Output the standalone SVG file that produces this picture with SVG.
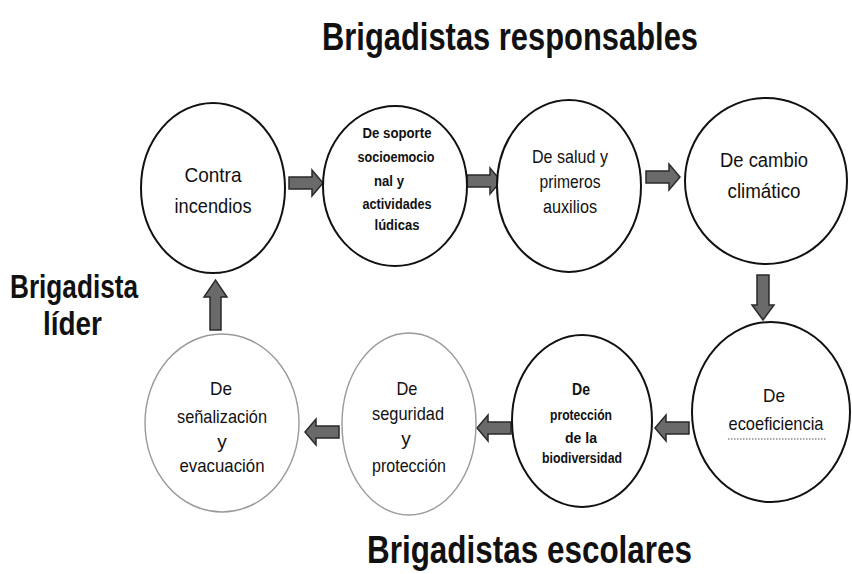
<svg xmlns="http://www.w3.org/2000/svg" width="852" height="574" viewBox="0 0 852 574">
<style>
.bg{fill:#ffffff}
.node{fill:#ffffff;stroke:#111111;stroke-width:2}
.faint{fill:#ffffff;stroke:#9a9a9a;stroke-width:1.4}
.t{font-family:"Liberation Sans",Arial,sans-serif;fill:#111111;text-anchor:middle}
.b{font-weight:bold}
.title{font-family:"Liberation Sans",Arial,sans-serif;font-weight:bold;fill:#111111;font-size:38px}
.arrow{fill:#6a6a6a;stroke:#2a2a2a;stroke-width:1.5;stroke-linejoin:miter}
</style>
<defs>
<path id="ar" d="M-17,-6 H6 V-13 L17,0 L6,13 V6 H-17 Z"/>
</defs>
<rect class="bg" x="0" y="0" width="852" height="574"/>

<g id="titles">
<text class="title" x="322" y="50" textLength="376" lengthAdjust="spacingAndGlyphs">Brigadistas responsables</text>
<text class="title" x="367" y="563" textLength="325" lengthAdjust="spacingAndGlyphs">Brigadistas escolares</text>
<text class="title" x="10" y="298" style="font-size:34px" textLength="128" lengthAdjust="spacingAndGlyphs">Brigadista</text>
<text class="title" x="43" y="335" style="font-size:34px" textLength="59" lengthAdjust="spacingAndGlyphs">líder</text>
</g>

<g id="connectors">
<use href="#ar" class="arrow" transform="translate(306,183)"/>
<use href="#ar" class="arrow" transform="translate(484,181)"/>
<use href="#ar" class="arrow" transform="translate(663,177)"/>
<path class="arrow" d="M757,275 H769 V305 H774 L763,320 L752,305 H757 Z"/>
<use href="#ar" class="arrow" transform="translate(672,428) rotate(180)"/>
<use href="#ar" class="arrow" transform="translate(494,428) rotate(180)"/>
<use href="#ar" class="arrow" transform="translate(322,432) rotate(180)"/>
<path class="arrow" d="M210,330 H221 V297 H227 L215.5,280 L204,297 H210 Z"/>
</g>

<g id="n1">
<ellipse class="node" cx="213" cy="188" rx="72" ry="85"/>
<text class="t" x="213" y="182" font-size="21" textLength="57" lengthAdjust="spacingAndGlyphs">Contra</text>
<text class="t" x="213" y="213" font-size="21" textLength="77" lengthAdjust="spacingAndGlyphs">incendios</text>
</g>

<g id="n2">
<ellipse class="node" cx="395" cy="186" rx="72" ry="80"/>
<text class="t b" x="397" y="138" font-size="14" textLength="69" lengthAdjust="spacingAndGlyphs">De soporte</text>
<text class="t b" x="396" y="162" font-size="14" textLength="77" lengthAdjust="spacingAndGlyphs">socioemocio</text>
<text class="t b" x="389" y="186" font-size="14" textLength="30" lengthAdjust="spacingAndGlyphs">nal y</text>
<text class="t b" x="397" y="209" font-size="14" textLength="69" lengthAdjust="spacingAndGlyphs">actividades</text>
<text class="t b" x="397" y="230" font-size="14" textLength="45" lengthAdjust="spacingAndGlyphs">lúdicas</text>
</g>

<g id="n3">
<ellipse class="node" cx="569" cy="186" rx="72" ry="86"/>
<text class="t" x="570" y="163" font-size="19" textLength="76" lengthAdjust="spacingAndGlyphs">De salud y</text>
<text class="t" x="570" y="188" font-size="19" textLength="61" lengthAdjust="spacingAndGlyphs">primeros</text>
<text class="t" x="570" y="213" font-size="19" textLength="54" lengthAdjust="spacingAndGlyphs">auxilios</text>
</g>

<g id="n4">
<ellipse class="node" cx="766" cy="181" rx="81" ry="83"/>
<text class="t" x="764" y="167" font-size="20" textLength="88" lengthAdjust="spacingAndGlyphs">De cambio</text>
<text class="t" x="764" y="198" font-size="20" textLength="73" lengthAdjust="spacingAndGlyphs">climático</text>
</g>

<g id="n5">
<ellipse class="node" cx="771" cy="412" rx="79" ry="90"/>
<text class="t" x="774" y="402" font-size="19" textLength="22" lengthAdjust="spacingAndGlyphs">De</text>
<text class="t" x="776" y="430" font-size="19" textLength="95" lengthAdjust="spacingAndGlyphs">ecoeficiencia</text>
<line x1="728" y1="439" x2="826" y2="439" stroke="#8a8a8a" stroke-width="1.5" stroke-dasharray="1.5 1.5"/>
</g>

<g id="n6">
<ellipse class="node" cx="582" cy="421" rx="70" ry="86"/>
<text class="t b" x="581" y="395" font-size="16" textLength="18" lengthAdjust="spacingAndGlyphs">De</text>
<text class="t b" x="581" y="420" font-size="15" textLength="62" lengthAdjust="spacingAndGlyphs">protección</text>
<text class="t b" x="581" y="443" font-size="15" textLength="32" lengthAdjust="spacingAndGlyphs">de la</text>
<text class="t b" x="582" y="463" font-size="15" textLength="80" lengthAdjust="spacingAndGlyphs">biodiversidad</text>
</g>

<g id="n7">
<ellipse class="faint" cx="409" cy="424" rx="67" ry="91"/>
<text class="t" x="407" y="395" font-size="19" textLength="21" lengthAdjust="spacingAndGlyphs">De</text>
<text class="t" x="408" y="420" font-size="19" textLength="72" lengthAdjust="spacingAndGlyphs">seguridad</text>
<text class="t" x="406" y="445" font-size="19">y</text>
<text class="t" x="409" y="472" font-size="19" textLength="74" lengthAdjust="spacingAndGlyphs">protección</text>
</g>

<g id="n8">
<ellipse class="faint" cx="222" cy="423" rx="77" ry="89"/>
<text class="t" x="221" y="395" font-size="19" textLength="22" lengthAdjust="spacingAndGlyphs">De</text>
<text class="t" x="222" y="423" font-size="19" textLength="90" lengthAdjust="spacingAndGlyphs">señalización</text>
<text class="t" x="222" y="448" font-size="19">y</text>
<text class="t" x="222" y="472" font-size="19" textLength="85" lengthAdjust="spacingAndGlyphs">evacuación</text>
</g>
</svg>
